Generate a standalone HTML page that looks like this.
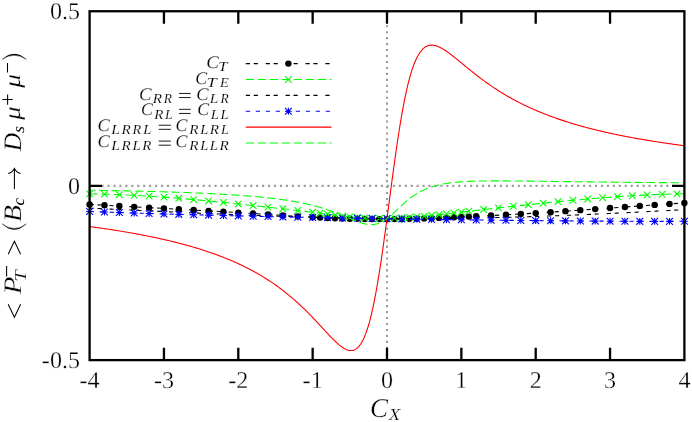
<!DOCTYPE html>
<html><head><meta charset="utf-8"><title>plot</title><style>html,body{margin:0;padding:0;background:#fff}svg{display:block;text-rendering:geometricPrecision}.t,.t text,.t tspan{font-family:"Liberation Serif",serif}</style></head><body>
<svg width="692" height="422" viewBox="0 0 692 422">
<rect x="0" y="0" width="692" height="422" fill="#fff"/>
<g stroke="#9c9c9c" stroke-width="2.1" fill="none">
<path d="M101.55 185.85 H672" stroke-dasharray="2.1 3.845"/>
<path d="M387.00 25.2 V348" stroke-dasharray="2.1 3.855"/>
</g>
<path d="M89.60 204.38 L104.47 205.23 L119.34 206.05 L134.21 206.85 L149.08 207.64 L163.95 208.43 L178.82 209.22 L193.69 210.03 L208.56 210.86 L223.43 211.71 L238.30 212.60 L253.17 213.53 L268.04 214.49 L282.91 215.44 L297.78 216.36 L312.65 217.20 L320.09 217.58 L327.52 217.91 L334.95 218.21 L342.39 218.47 L349.82 218.69 L357.26 218.87 L364.69 218.99 L372.13 219.08 L379.56 219.12 L387.00 219.11 L394.44 219.05 L401.87 218.95 L409.31 218.81 L416.74 218.63 L424.18 218.41 L431.61 218.16 L439.05 217.89 L446.48 217.59 L453.91 217.27 L461.35 216.94 L468.78 216.60 L476.22 216.25 L491.09 215.53 L505.96 214.77 L520.83 213.96 L535.70 213.09 L550.57 212.15 L565.44 211.17 L580.31 210.14 L595.18 209.09 L610.05 208.03 L624.92 206.97 L639.79 205.92 L654.66 204.88 L669.53 203.88 L684.40 202.90" fill="none" stroke="#000" stroke-width="1.10" stroke-dasharray="4.2 3.7 4.2 7.8"/>
<g fill="#000"><circle cx="89.60" cy="204.38" r="3.20"/><circle cx="104.47" cy="205.23" r="3.20"/><circle cx="119.34" cy="206.05" r="3.20"/><circle cx="134.21" cy="206.85" r="3.20"/><circle cx="149.08" cy="207.64" r="3.20"/><circle cx="163.95" cy="208.43" r="3.20"/><circle cx="178.82" cy="209.22" r="3.20"/><circle cx="193.69" cy="210.03" r="3.20"/><circle cx="208.56" cy="210.86" r="3.20"/><circle cx="223.43" cy="211.71" r="3.20"/><circle cx="238.30" cy="212.60" r="3.20"/><circle cx="253.17" cy="213.53" r="3.20"/><circle cx="268.04" cy="214.49" r="3.20"/><circle cx="282.91" cy="215.44" r="3.20"/><circle cx="297.78" cy="216.36" r="3.20"/><circle cx="312.65" cy="217.20" r="3.20"/><circle cx="320.09" cy="217.58" r="3.20"/><circle cx="327.52" cy="217.91" r="3.20"/><circle cx="334.95" cy="218.21" r="3.20"/><circle cx="342.39" cy="218.47" r="3.20"/><circle cx="349.82" cy="218.69" r="3.20"/><circle cx="357.26" cy="218.87" r="3.20"/><circle cx="364.69" cy="218.99" r="3.20"/><circle cx="372.13" cy="219.08" r="3.20"/><circle cx="379.56" cy="219.12" r="3.20"/><circle cx="387.00" cy="219.11" r="3.20"/><circle cx="394.44" cy="219.05" r="3.20"/><circle cx="401.87" cy="218.95" r="3.20"/><circle cx="409.31" cy="218.81" r="3.20"/><circle cx="416.74" cy="218.63" r="3.20"/><circle cx="424.18" cy="218.41" r="3.20"/><circle cx="431.61" cy="218.16" r="3.20"/><circle cx="439.05" cy="217.89" r="3.20"/><circle cx="446.48" cy="217.59" r="3.20"/><circle cx="453.91" cy="217.27" r="3.20"/><circle cx="461.35" cy="216.94" r="3.20"/><circle cx="468.78" cy="216.60" r="3.20"/><circle cx="476.22" cy="216.25" r="3.20"/><circle cx="491.09" cy="215.53" r="3.20"/><circle cx="505.96" cy="214.77" r="3.20"/><circle cx="520.83" cy="213.96" r="3.20"/><circle cx="535.70" cy="213.09" r="3.20"/><circle cx="550.57" cy="212.15" r="3.20"/><circle cx="565.44" cy="211.17" r="3.20"/><circle cx="580.31" cy="210.14" r="3.20"/><circle cx="595.18" cy="209.09" r="3.20"/><circle cx="610.05" cy="208.03" r="3.20"/><circle cx="624.92" cy="206.97" r="3.20"/><circle cx="639.79" cy="205.92" r="3.20"/><circle cx="654.66" cy="204.88" r="3.20"/><circle cx="669.53" cy="203.88" r="3.20"/><circle cx="684.40" cy="202.90" r="3.20"/></g>
<path d="M89.60 193.84 L104.47 194.14 L119.34 194.64 L134.21 195.33 L149.08 196.17 L163.95 197.17 L178.82 198.31 L193.69 199.58 L208.56 200.95 L223.43 202.41 L238.30 203.95 L253.17 205.54 L268.04 207.15 L282.91 208.80 L297.78 210.52 L312.65 212.31 L320.09 213.24 L327.52 214.20 L334.95 215.17 L342.39 216.11 L349.82 216.92 L357.26 217.56 L364.69 218.00 L372.13 218.27 L379.56 218.37 L387.00 218.31 L394.44 218.11 L401.87 217.79 L409.31 217.35 L416.74 216.81 L424.18 216.17 L431.61 215.46 L439.05 214.69 L446.48 213.87 L453.91 213.02 L461.35 212.15 L468.78 211.28 L483.65 209.55 L498.52 207.88 L513.39 206.26 L528.26 204.69 L543.13 203.16 L558.00 201.68 L572.88 200.28 L587.75 198.96 L602.62 197.76 L617.49 196.67 L632.36 195.72 L647.22 194.92 L662.10 194.28 L676.96 193.83 L684.40 193.67" fill="none" stroke="#0f0" stroke-width="1.10" stroke-dasharray="8.3 3.7"/>
<path d="M86.30 190.54l6.60 6.60M86.30 197.14l6.60 -6.60M101.17 190.84l6.60 6.60M101.17 197.44l6.60 -6.60M116.04 191.34l6.60 6.60M116.04 197.94l6.60 -6.60M130.91 192.03l6.60 6.60M130.91 198.63l6.60 -6.60M145.78 192.87l6.60 6.60M145.78 199.47l6.60 -6.60M160.65 193.87l6.60 6.60M160.65 200.47l6.60 -6.60M175.52 195.01l6.60 6.60M175.52 201.61l6.60 -6.60M190.39 196.28l6.60 6.60M190.39 202.88l6.60 -6.60M205.26 197.65l6.60 6.60M205.26 204.25l6.60 -6.60M220.13 199.11l6.60 6.60M220.13 205.71l6.60 -6.60M235.00 200.65l6.60 6.60M235.00 207.25l6.60 -6.60M249.87 202.24l6.60 6.60M249.87 208.84l6.60 -6.60M264.74 203.85l6.60 6.60M264.74 210.45l6.60 -6.60M279.61 205.50l6.60 6.60M279.61 212.10l6.60 -6.60M294.48 207.22l6.60 6.60M294.48 213.82l6.60 -6.60M309.35 209.01l6.60 6.60M309.35 215.61l6.60 -6.60M316.79 209.94l6.60 6.60M316.79 216.54l6.60 -6.60M324.22 210.90l6.60 6.60M324.22 217.50l6.60 -6.60M331.65 211.87l6.60 6.60M331.65 218.47l6.60 -6.60M339.09 212.81l6.60 6.60M339.09 219.41l6.60 -6.60M346.52 213.62l6.60 6.60M346.52 220.22l6.60 -6.60M353.96 214.26l6.60 6.60M353.96 220.86l6.60 -6.60M361.39 214.70l6.60 6.60M361.39 221.30l6.60 -6.60M368.83 214.97l6.60 6.60M368.83 221.57l6.60 -6.60M376.26 215.07l6.60 6.60M376.26 221.67l6.60 -6.60M383.70 215.01l6.60 6.60M383.70 221.61l6.60 -6.60M391.13 214.81l6.60 6.60M391.13 221.41l6.60 -6.60M398.57 214.49l6.60 6.60M398.57 221.09l6.60 -6.60M406.00 214.05l6.60 6.60M406.00 220.65l6.60 -6.60M413.44 213.51l6.60 6.60M413.44 220.11l6.60 -6.60M420.88 212.87l6.60 6.60M420.88 219.47l6.60 -6.60M428.31 212.16l6.60 6.60M428.31 218.76l6.60 -6.60M435.75 211.39l6.60 6.60M435.75 217.99l6.60 -6.60M443.18 210.57l6.60 6.60M443.18 217.17l6.60 -6.60M450.61 209.72l6.60 6.60M450.61 216.32l6.60 -6.60M458.05 208.85l6.60 6.60M458.05 215.45l6.60 -6.60M465.48 207.98l6.60 6.60M465.48 214.58l6.60 -6.60M480.35 206.25l6.60 6.60M480.35 212.85l6.60 -6.60M495.22 204.58l6.60 6.60M495.22 211.18l6.60 -6.60M510.09 202.96l6.60 6.60M510.09 209.56l6.60 -6.60M524.97 201.39l6.60 6.60M524.97 207.99l6.60 -6.60M539.84 199.86l6.60 6.60M539.84 206.46l6.60 -6.60M554.71 198.38l6.60 6.60M554.71 204.98l6.60 -6.60M569.58 196.98l6.60 6.60M569.58 203.58l6.60 -6.60M584.45 195.66l6.60 6.60M584.45 202.26l6.60 -6.60M599.32 194.46l6.60 6.60M599.32 201.06l6.60 -6.60M614.19 193.37l6.60 6.60M614.19 199.97l6.60 -6.60M629.06 192.42l6.60 6.60M629.06 199.02l6.60 -6.60M643.92 191.62l6.60 6.60M643.92 198.22l6.60 -6.60M658.80 190.98l6.60 6.60M658.80 197.58l6.60 -6.60M673.66 190.53l6.60 6.60M673.66 197.13l6.60 -6.60" fill="none" stroke="#0f0" stroke-width="1.10"/>
<path d="M89.60 208.09 L90.34 208.12 L91.09 208.16 L91.83 208.20 L92.57 208.23 L93.32 208.27 L94.06 208.30 L94.80 208.34 L95.55 208.37 L96.29 208.41 L97.04 208.44 L97.78 208.48 L98.52 208.51 L99.27 208.55 L100.01 208.59 L100.75 208.62 L101.50 208.66 L102.24 208.69 L102.98 208.73 L103.73 208.76 L104.47 208.80 L105.21 208.83 L105.96 208.87 L106.70 208.90 L107.44 208.94 L108.19 208.98 L108.93 209.01 L109.67 209.05 L110.42 209.08 L111.16 209.12 L111.91 209.15 L112.65 209.19 L113.39 209.22 L114.14 209.26 L114.88 209.29 L115.62 209.33 L116.37 209.36 L117.11 209.40 L117.85 209.44 L118.60 209.47 L119.34 209.51 L120.08 209.54 L120.83 209.58 L121.57 209.61 L122.31 209.65 L123.06 209.68 L123.80 209.72 L124.54 209.75 L125.29 209.79 L126.03 209.82 L126.78 209.86 L127.52 209.89 L128.26 209.93 L129.01 209.96 L129.75 210.00 L130.49 210.03 L131.24 210.07 L131.98 210.10 L132.72 210.14 L133.47 210.17 L134.21 210.21 L134.95 210.24 L135.70 210.28 L136.44 210.31 L137.18 210.35 L137.93 210.38 L138.67 210.42 L139.41 210.45 L140.16 210.49 L140.90 210.52 L141.65 210.56 L142.39 210.59 L143.13 210.63 L143.88 210.66 L144.62 210.70 L145.36 210.73 L146.11 210.77 L146.85 210.80 L147.59 210.84 L148.34 210.87 L149.08 210.90 L149.82 210.94 L150.57 210.97 L151.31 211.01 L152.05 211.04 L152.80 211.08 L153.54 211.11 L154.28 211.15 L155.03 211.18 L155.77 211.21 L156.52 211.25 L157.26 211.28 L158.00 211.32 L158.75 211.35 L159.49 211.39 L160.23 211.42 L160.98 211.45 L161.72 211.49 L162.46 211.52 L163.21 211.56 L163.95 211.59 L164.69 211.63 L165.44 211.66 L166.18 211.69 L166.92 211.73 L167.67 211.76 L168.41 211.79 L169.15 211.83 L169.90 211.86 L170.64 211.90 L171.39 211.93 L172.13 211.96 L172.87 212.00 L173.62 212.03 L174.36 212.06 L175.10 212.10 L175.85 212.13 L176.59 212.16 L177.33 212.20 L178.08 212.23 L178.82 212.26 L179.56 212.30 L180.31 212.33 L181.05 212.36 L181.79 212.40 L182.54 212.43 L183.28 212.46 L184.02 212.50 L184.77 212.53 L185.51 212.56 L186.25 212.60 L187.00 212.63 L187.74 212.66 L188.49 212.69 L189.23 212.73 L189.97 212.76 L190.72 212.79 L191.46 212.82 L192.20 212.86 L192.95 212.89 L193.69 212.92 L194.43 212.95 L195.18 212.99 L195.92 213.02 L196.66 213.05 L197.41 213.08 L198.15 213.12 L198.89 213.15 L199.64 213.18 L200.38 213.21 L201.12 213.24 L201.87 213.28 L202.61 213.31 L203.36 213.34 L204.10 213.37 L204.84 213.40 L205.59 213.43 L206.33 213.47 L207.07 213.50 L207.82 213.53 L208.56 213.56 L209.30 213.59 L210.05 213.62 L210.79 213.65 L211.53 213.69 L212.28 213.72 L213.02 213.75 L213.76 213.78 L214.51 213.81 L215.25 213.84 L216.00 213.87 L216.74 213.90 L217.48 213.93 L218.23 213.96 L218.97 213.99 L219.71 214.03 L220.46 214.06 L221.20 214.09 L221.94 214.12 L222.69 214.15 L223.43 214.18 L224.17 214.21 L224.92 214.24 L225.66 214.27 L226.40 214.30 L227.15 214.33 L227.89 214.36 L228.63 214.39 L229.38 214.42 L230.12 214.45 L230.87 214.48 L231.61 214.50 L232.35 214.53 L233.10 214.56 L233.84 214.59 L234.58 214.62 L235.33 214.65 L236.07 214.68 L236.81 214.71 L237.56 214.74 L238.30 214.77 L239.04 214.80 L239.79 214.82 L240.53 214.85 L241.27 214.88 L242.02 214.91 L242.76 214.94 L243.50 214.97 L244.25 214.99 L244.99 215.02 L245.74 215.05 L246.48 215.08 L247.22 215.11 L247.97 215.13 L248.71 215.16 L249.45 215.19 L250.20 215.22 L250.94 215.25 L251.68 215.27 L252.43 215.30 L253.17 215.33 L253.91 215.35 L254.66 215.38 L255.40 215.41 L256.14 215.44 L256.89 215.46 L257.63 215.49 L258.37 215.52 L259.12 215.54 L259.86 215.57 L260.61 215.59 L261.35 215.62 L262.09 215.65 L262.84 215.67 L263.58 215.70 L264.32 215.73 L265.07 215.75 L265.81 215.78 L266.55 215.80 L267.30 215.83 L268.04 215.85 L268.78 215.88 L269.53 215.90 L270.27 215.93 L271.01 215.95 L271.76 215.98 L272.50 216.00 L273.24 216.03 L273.99 216.05 L274.73 216.08 L275.48 216.10 L276.22 216.13 L276.96 216.15 L277.71 216.18 L278.45 216.20 L279.19 216.22 L279.94 216.25 L280.68 216.27 L281.42 216.30 L282.17 216.32 L282.91 216.34 L283.65 216.37 L284.40 216.39 L285.14 216.41 L285.88 216.44 L286.63 216.46 L287.37 216.48 L288.11 216.51 L288.86 216.53 L289.60 216.55 L290.35 216.57 L291.09 216.60 L291.83 216.62 L292.58 216.64 L293.32 216.66 L294.06 216.68 L294.81 216.71 L295.55 216.73 L296.29 216.75 L297.04 216.77 L297.78 216.79 L298.52 216.81 L299.27 216.84 L300.01 216.86 L300.75 216.88 L301.50 216.90 L302.24 216.92 L302.98 216.94 L303.73 216.96 L304.47 216.98 L305.22 217.00 L305.96 217.02 L306.70 217.04 L307.45 217.06 L308.19 217.08 L308.93 217.10 L309.68 217.12 L310.42 217.14 L311.16 217.16 L311.91 217.18 L312.65 217.20 L313.39 217.22 L314.14 217.24 L314.88 217.25 L315.62 217.27 L316.37 217.29 L317.11 217.31 L317.85 217.33 L318.60 217.35 L319.34 217.36 L320.09 217.38 L320.83 217.40 L321.57 217.42 L322.32 217.44 L323.06 217.45 L323.80 217.47 L324.55 217.49 L325.29 217.50 L326.03 217.52 L326.78 217.54 L327.52 217.56 L328.26 217.57 L329.01 217.59 L329.75 217.60 L330.49 217.62 L331.24 217.64 L331.98 217.65 L332.72 217.67 L333.47 217.68 L334.21 217.70 L334.96 217.72 L335.70 217.73 L336.44 217.75 L337.19 217.76 L337.93 217.78 L338.67 217.79 L339.42 217.80 L340.16 217.82 L340.90 217.83 L341.65 217.85 L342.39 217.86 L343.13 217.88 L343.88 217.89 L344.62 217.90 L345.36 217.92 L346.11 217.93 L346.85 217.94 L347.59 217.96 L348.34 217.97 L349.08 217.98 L349.82 218.00 L350.57 218.01 L351.31 218.02 L352.06 218.03 L352.80 218.05 L353.54 218.06 L354.29 218.07 L355.03 218.08 L355.77 218.09 L356.52 218.10 L357.26 218.12 L358.00 218.13 L358.75 218.14 L359.49 218.15 L360.23 218.16 L360.98 218.17 L361.72 218.18 L362.46 218.19 L363.21 218.20 L363.95 218.21 L364.69 218.22 L365.44 218.23 L366.18 218.24 L366.93 218.25 L367.67 218.26 L368.41 218.27 L369.16 218.28 L369.90 218.29 L370.64 218.30 L371.39 218.30 L372.13 218.31 L372.87 218.32 L373.62 218.33 L374.36 218.34 L375.10 218.34 L375.85 218.35 L376.59 218.36 L377.33 218.37 L378.08 218.38 L378.82 218.38 L379.56 218.39 L380.31 218.40 L381.05 218.40 L381.80 218.41 L382.54 218.42 L383.28 218.42 L384.03 218.43 L384.77 218.43 L385.51 218.44 L386.26 218.45 L387.00 218.45 L387.74 218.46 L388.49 218.46 L389.23 218.47 L389.97 218.47 L390.72 218.48 L391.46 218.48 L392.20 218.49 L392.95 218.49 L393.69 218.49 L394.43 218.50 L395.18 218.50 L395.92 218.51 L396.67 218.51 L397.41 218.51 L398.15 218.52 L398.90 218.52 L399.64 218.52 L400.38 218.52 L401.13 218.53 L401.87 218.53 L402.61 218.53 L403.36 218.53 L404.10 218.54 L404.84 218.54 L405.59 218.54 L406.33 218.54 L407.07 218.54 L407.82 218.54 L408.56 218.55 L409.31 218.55 L410.05 218.55 L410.79 218.55 L411.54 218.55 L412.28 218.55 L413.02 218.55 L413.77 218.55 L414.51 218.55 L415.25 218.55 L416.00 218.55 L416.74 218.55 L417.48 218.55 L418.23 218.55 L418.97 218.54 L419.71 218.54 L420.46 218.54 L421.20 218.54 L421.94 218.54 L422.69 218.54 L423.43 218.53 L424.18 218.53 L424.92 218.53 L425.66 218.53 L426.41 218.52 L427.15 218.52 L427.89 218.52 L428.64 218.52 L429.38 218.51 L430.12 218.51 L430.87 218.51 L431.61 218.50 L432.35 218.50 L433.10 218.49 L433.84 218.49 L434.58 218.49 L435.33 218.48 L436.07 218.48 L436.81 218.47 L437.56 218.47 L438.30 218.46 L439.05 218.46 L439.79 218.45 L440.53 218.44 L441.28 218.44 L442.02 218.43 L442.76 218.43 L443.51 218.42 L444.25 218.41 L444.99 218.41 L445.74 218.40 L446.48 218.39 L447.22 218.39 L447.97 218.38 L448.71 218.37 L449.45 218.36 L450.20 218.36 L450.94 218.35 L451.68 218.34 L452.43 218.33 L453.17 218.32 L453.92 218.32 L454.66 218.31 L455.40 218.30 L456.15 218.29 L456.89 218.28 L457.63 218.27 L458.38 218.26 L459.12 218.25 L459.86 218.24 L460.61 218.23 L461.35 218.22 L462.09 218.21 L462.84 218.20 L463.58 218.19 L464.32 218.18 L465.07 218.17 L465.81 218.16 L466.55 218.15 L467.30 218.14 L468.04 218.13 L468.79 218.12 L469.53 218.10 L470.27 218.09 L471.02 218.08 L471.76 218.07 L472.50 218.06 L473.25 218.04 L473.99 218.03 L474.73 218.02 L475.48 218.00 L476.22 217.99 L476.96 217.98 L477.71 217.96 L478.45 217.95 L479.19 217.94 L479.94 217.92 L480.68 217.91 L481.42 217.90 L482.17 217.88 L482.91 217.87 L483.65 217.85 L484.40 217.84 L485.14 217.82 L485.89 217.81 L486.63 217.79 L487.37 217.78 L488.12 217.76 L488.86 217.75 L489.60 217.73 L490.35 217.71 L491.09 217.70 L491.83 217.68 L492.58 217.67 L493.32 217.65 L494.06 217.63 L494.81 217.62 L495.55 217.60 L496.29 217.58 L497.04 217.56 L497.78 217.55 L498.52 217.53 L499.27 217.51 L500.01 217.49 L500.76 217.48 L501.50 217.46 L502.24 217.44 L502.99 217.42 L503.73 217.40 L504.47 217.38 L505.22 217.37 L505.96 217.35 L506.70 217.33 L507.45 217.31 L508.19 217.29 L508.93 217.27 L509.68 217.25 L510.42 217.23 L511.16 217.21 L511.91 217.19 L512.65 217.17 L513.39 217.15 L514.14 217.13 L514.88 217.11 L515.63 217.09 L516.37 217.07 L517.11 217.04 L517.86 217.02 L518.60 217.00 L519.34 216.98 L520.09 216.96 L520.83 216.94 L521.57 216.92 L522.32 216.89 L523.06 216.87 L523.80 216.85 L524.55 216.83 L525.29 216.80 L526.03 216.78 L526.78 216.76 L527.52 216.74 L528.26 216.71 L529.01 216.69 L529.75 216.67 L530.50 216.64 L531.24 216.62 L531.98 216.59 L532.73 216.57 L533.47 216.55 L534.21 216.52 L534.96 216.50 L535.70 216.47 L536.44 216.45 L537.19 216.42 L537.93 216.40 L538.67 216.38 L539.42 216.35 L540.16 216.33 L540.90 216.30 L541.65 216.27 L542.39 216.25 L543.13 216.22 L543.88 216.20 L544.62 216.17 L545.37 216.15 L546.11 216.12 L546.85 216.09 L547.60 216.07 L548.34 216.04 L549.08 216.01 L549.83 215.99 L550.57 215.96 L551.31 215.93 L552.06 215.91 L552.80 215.88 L553.54 215.85 L554.29 215.82 L555.03 215.80 L555.77 215.77 L556.52 215.74 L557.26 215.71 L558.00 215.68 L558.75 215.66 L559.49 215.63 L560.24 215.60 L560.98 215.57 L561.72 215.54 L562.47 215.51 L563.21 215.48 L563.95 215.46 L564.70 215.43 L565.44 215.40 L566.18 215.37 L566.93 215.34 L567.67 215.31 L568.41 215.28 L569.16 215.25 L569.90 215.22 L570.64 215.19 L571.39 215.16 L572.13 215.13 L572.88 215.10 L573.62 215.07 L574.36 215.04 L575.11 215.01 L575.85 214.98 L576.59 214.95 L577.34 214.91 L578.08 214.88 L578.82 214.85 L579.57 214.82 L580.31 214.79 L581.05 214.76 L581.80 214.73 L582.54 214.69 L583.28 214.66 L584.03 214.63 L584.77 214.60 L585.51 214.57 L586.26 214.54 L587.00 214.50 L587.75 214.47 L588.49 214.44 L589.23 214.41 L589.98 214.37 L590.72 214.34 L591.46 214.31 L592.21 214.27 L592.95 214.24 L593.69 214.21 L594.44 214.17 L595.18 214.14 L595.92 214.11 L596.67 214.07 L597.41 214.04 L598.15 214.01 L598.90 213.97 L599.64 213.94 L600.38 213.91 L601.13 213.87 L601.87 213.84 L602.62 213.80 L603.36 213.77 L604.10 213.73 L604.85 213.70 L605.59 213.67 L606.33 213.63 L607.08 213.60 L607.82 213.56 L608.56 213.53 L609.31 213.49 L610.05 213.46 L610.79 213.42 L611.54 213.39 L612.28 213.35 L613.02 213.32 L613.77 213.28 L614.51 213.24 L615.25 213.21 L616.00 213.17 L616.74 213.14 L617.49 213.10 L618.23 213.07 L618.97 213.03 L619.72 212.99 L620.46 212.96 L621.20 212.92 L621.95 212.88 L622.69 212.85 L623.43 212.81 L624.18 212.78 L624.92 212.74 L625.66 212.70 L626.41 212.67 L627.15 212.63 L627.89 212.59 L628.64 212.55 L629.38 212.52 L630.12 212.48 L630.87 212.44 L631.61 212.41 L632.36 212.37 L633.10 212.33 L633.84 212.29 L634.59 212.26 L635.33 212.22 L636.07 212.18 L636.82 212.14 L637.56 212.11 L638.30 212.07 L639.05 212.03 L639.79 211.99 L640.53 211.95 L641.28 211.92 L642.02 211.88 L642.76 211.84 L643.51 211.80 L644.25 211.76 L644.99 211.72 L645.74 211.69 L646.48 211.65 L647.22 211.61 L647.97 211.57 L648.71 211.53 L649.46 211.49 L650.20 211.45 L650.94 211.41 L651.69 211.38 L652.43 211.34 L653.17 211.30 L653.92 211.26 L654.66 211.22 L655.40 211.18 L656.15 211.14 L656.89 211.10 L657.63 211.06 L658.38 211.02 L659.12 210.98 L659.86 210.94 L660.61 210.91 L661.35 210.87 L662.10 210.83 L662.84 210.79 L663.58 210.75 L664.33 210.71 L665.07 210.67 L665.81 210.63 L666.56 210.59 L667.30 210.55 L668.04 210.51 L668.79 210.47 L669.53 210.43 L670.27 210.39 L671.02 210.35 L671.76 210.31 L672.50 210.27 L673.25 210.23 L673.99 210.19 L674.73 210.15 L675.48 210.11 L676.22 210.06 L676.97 210.02 L677.71 209.98 L678.45 209.94 L679.20 209.90 L679.94 209.86 L680.68 209.82 L681.43 209.78 L682.17 209.74 L682.91 209.70 L683.66 209.66 L684.40 209.62" fill="none" stroke="#000" stroke-width="1.10" stroke-dasharray="4.2 3.7 4.2 7.8"/>
<path d="M89.60 211.47 L104.47 212.01 L119.34 212.52 L134.21 213.01 L149.08 213.48 L163.95 213.93 L178.82 214.36 L193.69 214.77 L208.56 215.16 L223.43 215.54 L238.30 215.90 L253.17 216.25 L268.04 216.58 L282.91 216.89 L297.78 217.20 L312.65 217.49 L327.52 217.77 L342.39 218.04 L357.26 218.29 L372.13 218.54 L387.00 218.78 L401.87 219.00 L416.74 219.21 L431.61 219.42 L446.48 219.62 L461.35 219.80 L476.22 219.98 L491.09 220.15 L505.96 220.31 L520.83 220.46 L535.70 220.60 L550.57 220.74 L565.44 220.86 L580.31 220.98 L595.18 221.09 L610.05 221.18 L624.92 221.27 L639.79 221.34 L654.66 221.38 L669.53 221.38 L684.40 221.27" fill="none" stroke="#00f" stroke-width="1.10" stroke-dasharray="4.2 5.8"/>
<path d="M86.20 208.07l6.80 6.80M86.20 214.87l6.80 -6.80M86.20 211.47h6.80M89.60 208.07v6.80M101.07 208.61l6.80 6.80M101.07 215.41l6.80 -6.80M101.07 212.01h6.80M104.47 208.61v6.80M115.94 209.12l6.80 6.80M115.94 215.92l6.80 -6.80M115.94 212.52h6.80M119.34 209.12v6.80M130.81 209.61l6.80 6.80M130.81 216.41l6.80 -6.80M130.81 213.01h6.80M134.21 209.61v6.80M145.68 210.08l6.80 6.80M145.68 216.88l6.80 -6.80M145.68 213.48h6.80M149.08 210.08v6.80M160.55 210.53l6.80 6.80M160.55 217.33l6.80 -6.80M160.55 213.93h6.80M163.95 210.53v6.80M175.42 210.96l6.80 6.80M175.42 217.76l6.80 -6.80M175.42 214.36h6.80M178.82 210.96v6.80M190.29 211.37l6.80 6.80M190.29 218.17l6.80 -6.80M190.29 214.77h6.80M193.69 211.37v6.80M205.16 211.76l6.80 6.80M205.16 218.56l6.80 -6.80M205.16 215.16h6.80M208.56 211.76v6.80M220.03 212.14l6.80 6.80M220.03 218.94l6.80 -6.80M220.03 215.54h6.80M223.43 212.14v6.80M234.90 212.50l6.80 6.80M234.90 219.30l6.80 -6.80M234.90 215.90h6.80M238.30 212.50v6.80M249.77 212.85l6.80 6.80M249.77 219.65l6.80 -6.80M249.77 216.25h6.80M253.17 212.85v6.80M264.64 213.18l6.80 6.80M264.64 219.98l6.80 -6.80M264.64 216.58h6.80M268.04 213.18v6.80M279.51 213.49l6.80 6.80M279.51 220.29l6.80 -6.80M279.51 216.89h6.80M282.91 213.49v6.80M294.38 213.80l6.80 6.80M294.38 220.60l6.80 -6.80M294.38 217.20h6.80M297.78 213.80v6.80M309.25 214.09l6.80 6.80M309.25 220.89l6.80 -6.80M309.25 217.49h6.80M312.65 214.09v6.80M324.12 214.37l6.80 6.80M324.12 221.17l6.80 -6.80M324.12 217.77h6.80M327.52 214.37v6.80M338.99 214.64l6.80 6.80M338.99 221.44l6.80 -6.80M338.99 218.04h6.80M342.39 214.64v6.80M353.86 214.89l6.80 6.80M353.86 221.69l6.80 -6.80M353.86 218.29h6.80M357.26 214.89v6.80M368.73 215.14l6.80 6.80M368.73 221.94l6.80 -6.80M368.73 218.54h6.80M372.13 215.14v6.80M383.60 215.38l6.80 6.80M383.60 222.18l6.80 -6.80M383.60 218.78h6.80M387.00 215.38v6.80M398.47 215.60l6.80 6.80M398.47 222.40l6.80 -6.80M398.47 219.00h6.80M401.87 215.60v6.80M413.34 215.81l6.80 6.80M413.34 222.61l6.80 -6.80M413.34 219.21h6.80M416.74 215.81v6.80M428.21 216.02l6.80 6.80M428.21 222.82l6.80 -6.80M428.21 219.42h6.80M431.61 216.02v6.80M443.08 216.22l6.80 6.80M443.08 223.02l6.80 -6.80M443.08 219.62h6.80M446.48 216.22v6.80M457.95 216.40l6.80 6.80M457.95 223.20l6.80 -6.80M457.95 219.80h6.80M461.35 216.40v6.80M472.82 216.58l6.80 6.80M472.82 223.38l6.80 -6.80M472.82 219.98h6.80M476.22 216.58v6.80M487.69 216.75l6.80 6.80M487.69 223.55l6.80 -6.80M487.69 220.15h6.80M491.09 216.75v6.80M502.56 216.91l6.80 6.80M502.56 223.71l6.80 -6.80M502.56 220.31h6.80M505.96 216.91v6.80M517.43 217.06l6.80 6.80M517.43 223.86l6.80 -6.80M517.43 220.46h6.80M520.83 217.06v6.80M532.30 217.20l6.80 6.80M532.30 224.00l6.80 -6.80M532.30 220.60h6.80M535.70 217.20v6.80M547.17 217.34l6.80 6.80M547.17 224.14l6.80 -6.80M547.17 220.74h6.80M550.57 217.34v6.80M562.04 217.46l6.80 6.80M562.04 224.26l6.80 -6.80M562.04 220.86h6.80M565.44 217.46v6.80M576.91 217.58l6.80 6.80M576.91 224.38l6.80 -6.80M576.91 220.98h6.80M580.31 217.58v6.80M591.78 217.69l6.80 6.80M591.78 224.49l6.80 -6.80M591.78 221.09h6.80M595.18 217.69v6.80M606.65 217.78l6.80 6.80M606.65 224.58l6.80 -6.80M606.65 221.18h6.80M610.05 217.78v6.80M621.52 217.87l6.80 6.80M621.52 224.67l6.80 -6.80M621.52 221.27h6.80M624.92 217.87v6.80M636.39 217.94l6.80 6.80M636.39 224.74l6.80 -6.80M636.39 221.34h6.80M639.79 217.94v6.80M651.26 217.98l6.80 6.80M651.26 224.78l6.80 -6.80M651.26 221.38h6.80M654.66 217.98v6.80M666.13 217.98l6.80 6.80M666.13 224.78l6.80 -6.80M666.13 221.38h6.80M669.53 217.98v6.80M681.00 217.87l6.80 6.80M681.00 224.67l6.80 -6.80M681.00 221.27h6.80M684.40 217.87v6.80" fill="none" stroke="#00f" stroke-width="1.10"/>
<path d="M89.60 226.57 L90.34 226.67 L91.09 226.77 L91.83 226.87 L92.57 226.97 L93.32 227.07 L94.06 227.17 L94.80 227.27 L95.55 227.37 L96.29 227.48 L97.04 227.58 L97.78 227.68 L98.52 227.79 L99.27 227.89 L100.01 228.00 L100.75 228.10 L101.50 228.21 L102.24 228.32 L102.98 228.43 L103.73 228.53 L104.47 228.64 L105.21 228.75 L105.96 228.86 L106.70 228.97 L107.44 229.08 L108.19 229.19 L108.93 229.31 L109.67 229.42 L110.42 229.53 L111.16 229.65 L111.91 229.76 L112.65 229.88 L113.39 229.99 L114.14 230.11 L114.88 230.22 L115.62 230.34 L116.37 230.46 L117.11 230.58 L117.85 230.70 L118.60 230.82 L119.34 230.94 L120.08 231.06 L120.83 231.18 L121.57 231.30 L122.31 231.42 L123.06 231.55 L123.80 231.67 L124.54 231.80 L125.29 231.92 L126.03 232.05 L126.78 232.18 L127.52 232.30 L128.26 232.43 L129.01 232.56 L129.75 232.69 L130.49 232.82 L131.24 232.95 L131.98 233.08 L132.72 233.22 L133.47 233.35 L134.21 233.48 L134.95 233.62 L135.70 233.75 L136.44 233.89 L137.18 234.03 L137.93 234.16 L138.67 234.30 L139.41 234.44 L140.16 234.58 L140.90 234.72 L141.65 234.86 L142.39 235.01 L143.13 235.15 L143.88 235.29 L144.62 235.44 L145.36 235.58 L146.11 235.73 L146.85 235.88 L147.59 236.03 L148.34 236.18 L149.08 236.33 L149.82 236.48 L150.57 236.63 L151.31 236.78 L152.05 236.93 L152.80 237.09 L153.54 237.24 L154.28 237.40 L155.03 237.56 L155.77 237.71 L156.52 237.87 L157.26 238.03 L158.00 238.19 L158.75 238.36 L159.49 238.52 L160.23 238.68 L160.98 238.85 L161.72 239.01 L162.46 239.18 L163.21 239.35 L163.95 239.52 L164.69 239.69 L165.44 239.86 L166.18 240.03 L166.92 240.20 L167.67 240.38 L168.41 240.55 L169.15 240.73 L169.90 240.91 L170.64 241.08 L171.39 241.26 L172.13 241.44 L172.87 241.63 L173.62 241.81 L174.36 241.99 L175.10 242.18 L175.85 242.36 L176.59 242.55 L177.33 242.74 L178.08 242.93 L178.82 243.12 L179.56 243.32 L180.31 243.51 L181.05 243.70 L181.79 243.90 L182.54 244.10 L183.28 244.30 L184.02 244.50 L184.77 244.70 L185.51 244.90 L186.25 245.11 L187.00 245.31 L187.74 245.52 L188.49 245.73 L189.23 245.94 L189.97 246.15 L190.72 246.36 L191.46 246.57 L192.20 246.79 L192.95 247.01 L193.69 247.22 L194.43 247.44 L195.18 247.67 L195.92 247.89 L196.66 248.11 L197.41 248.34 L198.15 248.57 L198.89 248.80 L199.64 249.03 L200.38 249.26 L201.12 249.49 L201.87 249.73 L202.61 249.97 L203.36 250.21 L204.10 250.45 L204.84 250.69 L205.59 250.93 L206.33 251.18 L207.07 251.43 L207.82 251.68 L208.56 251.93 L209.30 252.18 L210.05 252.43 L210.79 252.69 L211.53 252.95 L212.28 253.21 L213.02 253.47 L213.76 253.74 L214.51 254.00 L215.25 254.27 L216.00 254.54 L216.74 254.81 L217.48 255.09 L218.23 255.37 L218.97 255.64 L219.71 255.92 L220.46 256.21 L221.20 256.49 L221.94 256.78 L222.69 257.07 L223.43 257.36 L224.17 257.65 L224.92 257.95 L225.66 258.25 L226.40 258.55 L227.15 258.85 L227.89 259.16 L228.63 259.46 L229.38 259.77 L230.12 260.09 L230.87 260.40 L231.61 260.72 L232.35 261.04 L233.10 261.36 L233.84 261.69 L234.58 262.01 L235.33 262.34 L236.07 262.68 L236.81 263.01 L237.56 263.35 L238.30 263.69 L239.04 264.03 L239.79 264.38 L240.53 264.73 L241.27 265.08 L242.02 265.44 L242.76 265.80 L243.50 266.16 L244.25 266.52 L244.99 266.89 L245.74 267.26 L246.48 267.63 L247.22 268.01 L247.97 268.39 L248.71 268.77 L249.45 269.15 L250.20 269.54 L250.94 269.93 L251.68 270.33 L252.43 270.73 L253.17 271.13 L253.91 271.54 L254.66 271.95 L255.40 272.36 L256.14 272.77 L256.89 273.19 L257.63 273.62 L258.37 274.04 L259.12 274.47 L259.86 274.91 L260.61 275.35 L261.35 275.79 L262.09 276.23 L262.84 276.68 L263.58 277.14 L264.32 277.60 L265.07 278.06 L265.81 278.52 L266.55 278.99 L267.30 279.47 L268.04 279.94 L268.78 280.43 L269.53 280.91 L270.27 281.40 L271.01 281.90 L271.76 282.40 L272.50 282.90 L273.24 283.41 L273.99 283.92 L274.73 284.44 L275.48 284.96 L276.22 285.49 L276.96 286.02 L277.71 286.55 L278.45 287.09 L279.19 287.64 L279.94 288.19 L280.68 288.74 L281.42 289.30 L282.17 289.87 L282.91 290.44 L283.65 291.01 L284.40 291.59 L285.14 292.18 L285.88 292.77 L286.63 293.36 L287.37 293.96 L288.11 294.57 L288.86 295.18 L289.60 295.80 L290.35 296.42 L291.09 297.04 L291.83 297.67 L292.58 298.31 L293.32 298.95 L294.06 299.60 L294.81 300.26 L295.55 300.91 L296.29 301.58 L297.04 302.25 L297.78 302.92 L298.52 303.60 L299.27 304.29 L300.01 304.98 L300.75 305.67 L301.50 306.38 L302.24 307.08 L302.98 307.79 L303.73 308.51 L304.47 309.23 L305.22 309.96 L305.96 310.69 L306.70 311.43 L307.45 312.17 L308.19 312.92 L308.93 313.67 L309.68 314.43 L310.42 315.19 L311.16 315.96 L311.91 316.73 L312.65 317.50 L313.39 318.28 L314.14 319.06 L314.88 319.84 L315.62 320.63 L316.37 321.42 L317.11 322.22 L317.85 323.01 L318.60 323.81 L319.34 324.61 L320.09 325.42 L320.83 326.22 L321.57 327.03 L322.32 327.83 L323.06 328.64 L323.80 329.44 L324.55 330.25 L325.29 331.05 L326.03 331.85 L326.78 332.65 L327.52 333.45 L328.26 334.24 L329.01 335.03 L329.75 335.81 L330.49 336.58 L331.24 337.35 L331.98 338.11 L332.72 338.87 L333.47 339.61 L334.21 340.34 L334.96 341.06 L335.70 341.77 L336.44 342.46 L337.19 343.14 L337.93 343.80 L338.67 344.44 L339.42 345.06 L340.16 345.65 L340.90 346.23 L341.65 346.78 L342.39 347.30 L343.13 347.79 L343.88 348.25 L344.62 348.68 L345.36 349.07 L346.11 349.42 L346.85 349.73 L347.59 349.99 L348.34 350.21 L349.08 350.38 L349.82 350.50 L350.57 350.56 L351.31 350.57 L352.06 350.51 L352.80 350.38 L353.54 350.19 L354.29 349.92 L355.03 349.57 L355.77 349.15 L356.52 348.64 L357.26 348.04 L358.00 347.35 L358.75 346.56 L359.49 345.67 L360.23 344.68 L360.98 343.57 L361.72 342.36 L362.46 341.02 L363.21 339.56 L363.95 337.98 L364.69 336.26 L365.44 334.41 L366.18 332.43 L366.93 330.30 L367.67 328.02 L368.41 325.61 L369.16 323.04 L369.90 320.31 L370.64 317.44 L371.39 314.41 L372.13 311.22 L372.87 307.87 L373.62 304.37 L374.36 300.71 L375.10 296.90 L375.85 292.93 L376.59 288.81 L377.33 284.55 L378.08 280.14 L378.82 275.60 L379.56 270.92 L380.31 266.11 L381.05 261.18 L381.80 256.14 L382.54 251.00 L383.28 245.76 L384.03 240.43 L384.77 235.02 L385.51 229.55 L386.26 224.02 L387.00 218.45 L387.74 212.84 L388.49 207.21 L389.23 201.57 L389.97 195.93 L390.72 190.30 L391.46 184.70 L392.20 179.13 L392.95 173.61 L393.69 168.14 L394.43 162.73 L395.18 157.41 L395.92 152.17 L396.67 147.02 L397.41 141.98 L398.15 137.04 L398.90 132.22 L399.64 127.52 L400.38 122.95 L401.13 118.51 L401.87 114.21 L402.61 110.05 L403.36 106.03 L404.10 102.15 L404.84 98.43 L405.59 94.84 L406.33 91.41 L407.07 88.12 L407.82 84.97 L408.56 81.98 L409.31 79.12 L410.05 76.41 L410.79 73.84 L411.54 71.41 L412.28 69.11 L413.02 66.94 L413.77 64.90 L414.51 62.98 L415.25 61.19 L416.00 59.52 L416.74 57.96 L417.48 56.51 L418.23 55.16 L418.97 53.92 L419.71 52.78 L420.46 51.74 L421.20 50.78 L421.94 49.92 L422.69 49.14 L423.43 48.44 L424.18 47.81 L424.92 47.27 L425.66 46.79 L426.41 46.38 L427.15 46.03 L427.89 45.74 L428.64 45.52 L429.38 45.34 L430.12 45.22 L430.87 45.15 L431.61 45.13 L432.35 45.15 L433.10 45.21 L433.84 45.31 L434.58 45.45 L435.33 45.62 L436.07 45.83 L436.81 46.07 L437.56 46.34 L438.30 46.64 L439.05 46.96 L439.79 47.31 L440.53 47.68 L441.28 48.07 L442.02 48.48 L442.76 48.91 L443.51 49.36 L444.25 49.82 L444.99 50.30 L445.74 50.80 L446.48 51.30 L447.22 51.82 L447.97 52.35 L448.71 52.89 L449.45 53.44 L450.20 53.99 L450.94 54.56 L451.68 55.13 L452.43 55.71 L453.17 56.29 L453.92 56.88 L454.66 57.47 L455.40 58.07 L456.15 58.67 L456.89 59.27 L457.63 59.88 L458.38 60.49 L459.12 61.10 L459.86 61.71 L460.61 62.32 L461.35 62.94 L462.09 63.55 L462.84 64.16 L463.58 64.78 L464.32 65.39 L465.07 66.00 L465.81 66.61 L466.55 67.22 L467.30 67.83 L468.04 68.44 L468.79 69.04 L469.53 69.65 L470.27 70.25 L471.02 70.85 L471.76 71.44 L472.50 72.04 L473.25 72.63 L473.99 73.22 L474.73 73.80 L475.48 74.39 L476.22 74.97 L476.96 75.54 L477.71 76.12 L478.45 76.69 L479.19 77.25 L479.94 77.82 L480.68 78.38 L481.42 78.93 L482.17 79.49 L482.91 80.04 L483.65 80.59 L484.40 81.13 L485.14 81.67 L485.89 82.20 L486.63 82.73 L487.37 83.26 L488.12 83.79 L488.86 84.31 L489.60 84.83 L490.35 85.34 L491.09 85.85 L491.83 86.36 L492.58 86.86 L493.32 87.36 L494.06 87.85 L494.81 88.35 L495.55 88.83 L496.29 89.32 L497.04 89.80 L497.78 90.28 L498.52 90.75 L499.27 91.22 L500.01 91.69 L500.76 92.15 L501.50 92.61 L502.24 93.06 L502.99 93.51 L503.73 93.96 L504.47 94.41 L505.22 94.85 L505.96 95.29 L506.70 95.72 L507.45 96.15 L508.19 96.58 L508.93 97.01 L509.68 97.43 L510.42 97.85 L511.16 98.26 L511.91 98.67 L512.65 99.08 L513.39 99.49 L514.14 99.89 L514.88 100.29 L515.63 100.68 L516.37 101.08 L517.11 101.47 L517.86 101.85 L518.60 102.24 L519.34 102.62 L520.09 102.99 L520.83 103.37 L521.57 103.74 L522.32 104.11 L523.06 104.48 L523.80 104.84 L524.55 105.20 L525.29 105.56 L526.03 105.91 L526.78 106.26 L527.52 106.61 L528.26 106.96 L529.01 107.30 L529.75 107.64 L530.50 107.98 L531.24 108.32 L531.98 108.65 L532.73 108.98 L533.47 109.31 L534.21 109.64 L534.96 109.96 L535.70 110.28 L536.44 110.60 L537.19 110.92 L537.93 111.23 L538.67 111.54 L539.42 111.85 L540.16 112.16 L540.90 112.46 L541.65 112.77 L542.39 113.07 L543.13 113.36 L543.88 113.66 L544.62 113.95 L545.37 114.24 L546.11 114.53 L546.85 114.82 L547.60 115.10 L548.34 115.39 L549.08 115.67 L549.83 115.95 L550.57 116.22 L551.31 116.50 L552.06 116.77 L552.80 117.04 L553.54 117.31 L554.29 117.58 L555.03 117.84 L555.77 118.10 L556.52 118.37 L557.26 118.63 L558.00 118.88 L558.75 119.14 L559.49 119.39 L560.24 119.64 L560.98 119.89 L561.72 120.14 L562.47 120.39 L563.21 120.63 L563.95 120.88 L564.70 121.12 L565.44 121.36 L566.18 121.60 L566.93 121.83 L567.67 122.07 L568.41 122.30 L569.16 122.53 L569.90 122.76 L570.64 122.99 L571.39 123.22 L572.13 123.45 L572.88 123.67 L573.62 123.89 L574.36 124.11 L575.11 124.33 L575.85 124.55 L576.59 124.77 L577.34 124.98 L578.08 125.20 L578.82 125.41 L579.57 125.62 L580.31 125.83 L581.05 126.04 L581.80 126.24 L582.54 126.45 L583.28 126.65 L584.03 126.86 L584.77 127.06 L585.51 127.26 L586.26 127.46 L587.00 127.66 L587.75 127.85 L588.49 128.05 L589.23 128.24 L589.98 128.43 L590.72 128.63 L591.46 128.82 L592.21 129.00 L592.95 129.19 L593.69 129.38 L594.44 129.56 L595.18 129.75 L595.92 129.93 L596.67 130.11 L597.41 130.29 L598.15 130.47 L598.90 130.65 L599.64 130.83 L600.38 131.01 L601.13 131.18 L601.87 131.36 L602.62 131.53 L603.36 131.70 L604.10 131.87 L604.85 132.04 L605.59 132.21 L606.33 132.38 L607.08 132.55 L607.82 132.71 L608.56 132.88 L609.31 133.04 L610.05 133.21 L610.79 133.37 L611.54 133.53 L612.28 133.69 L613.02 133.85 L613.77 134.01 L614.51 134.17 L615.25 134.32 L616.00 134.48 L616.74 134.63 L617.49 134.79 L618.23 134.94 L618.97 135.09 L619.72 135.24 L620.46 135.39 L621.20 135.54 L621.95 135.69 L622.69 135.84 L623.43 135.99 L624.18 136.13 L624.92 136.28 L625.66 136.42 L626.41 136.56 L627.15 136.71 L627.89 136.85 L628.64 136.99 L629.38 137.13 L630.12 137.27 L630.87 137.41 L631.61 137.55 L632.36 137.69 L633.10 137.82 L633.84 137.96 L634.59 138.09 L635.33 138.23 L636.07 138.36 L636.82 138.49 L637.56 138.63 L638.30 138.76 L639.05 138.89 L639.79 139.02 L640.53 139.15 L641.28 139.28 L642.02 139.40 L642.76 139.53 L643.51 139.66 L644.25 139.78 L644.99 139.91 L645.74 140.03 L646.48 140.16 L647.22 140.28 L647.97 140.40 L648.71 140.53 L649.46 140.65 L650.20 140.77 L650.94 140.89 L651.69 141.01 L652.43 141.13 L653.17 141.25 L653.92 141.36 L654.66 141.48 L655.40 141.60 L656.15 141.71 L656.89 141.83 L657.63 141.94 L658.38 142.06 L659.12 142.17 L659.86 142.28 L660.61 142.40 L661.35 142.51 L662.10 142.62 L662.84 142.73 L663.58 142.84 L664.33 142.95 L665.07 143.06 L665.81 143.17 L666.56 143.28 L667.30 143.38 L668.04 143.49 L668.79 143.60 L669.53 143.70 L670.27 143.81 L671.02 143.91 L671.76 144.02 L672.50 144.12 L673.25 144.23 L673.99 144.33 L674.73 144.43 L675.48 144.53 L676.22 144.63 L676.97 144.73 L677.71 144.83 L678.45 144.93 L679.20 145.03 L679.94 145.13 L680.68 145.23 L681.43 145.33 L682.17 145.43 L682.91 145.52 L683.66 145.62 L684.40 145.72" fill="none" stroke="#f00" stroke-width="1.10"/>
<path d="M89.60 190.19 L90.34 190.20 L91.09 190.22 L91.83 190.23 L92.57 190.24 L93.32 190.25 L94.06 190.26 L94.80 190.28 L95.55 190.29 L96.29 190.30 L97.04 190.31 L97.78 190.33 L98.52 190.34 L99.27 190.35 L100.01 190.36 L100.75 190.38 L101.50 190.39 L102.24 190.40 L102.98 190.42 L103.73 190.43 L104.47 190.44 L105.21 190.46 L105.96 190.47 L106.70 190.48 L107.44 190.50 L108.19 190.51 L108.93 190.52 L109.67 190.54 L110.42 190.55 L111.16 190.57 L111.91 190.58 L112.65 190.59 L113.39 190.61 L114.14 190.62 L114.88 190.64 L115.62 190.65 L116.37 190.67 L117.11 190.68 L117.85 190.70 L118.60 190.71 L119.34 190.73 L120.08 190.74 L120.83 190.76 L121.57 190.77 L122.31 190.79 L123.06 190.80 L123.80 190.82 L124.54 190.83 L125.29 190.85 L126.03 190.86 L126.78 190.88 L127.52 190.90 L128.26 190.91 L129.01 190.93 L129.75 190.94 L130.49 190.96 L131.24 190.98 L131.98 190.99 L132.72 191.01 L133.47 191.03 L134.21 191.04 L134.95 191.06 L135.70 191.08 L136.44 191.10 L137.18 191.11 L137.93 191.13 L138.67 191.15 L139.41 191.17 L140.16 191.18 L140.90 191.20 L141.65 191.22 L142.39 191.24 L143.13 191.26 L143.88 191.27 L144.62 191.29 L145.36 191.31 L146.11 191.33 L146.85 191.35 L147.59 191.37 L148.34 191.39 L149.08 191.41 L149.82 191.43 L150.57 191.44 L151.31 191.46 L152.05 191.48 L152.80 191.50 L153.54 191.52 L154.28 191.54 L155.03 191.56 L155.77 191.58 L156.52 191.61 L157.26 191.63 L158.00 191.65 L158.75 191.67 L159.49 191.69 L160.23 191.71 L160.98 191.73 L161.72 191.75 L162.46 191.78 L163.21 191.80 L163.95 191.82 L164.69 191.84 L165.44 191.86 L166.18 191.89 L166.92 191.91 L167.67 191.93 L168.41 191.96 L169.15 191.98 L169.90 192.00 L170.64 192.03 L171.39 192.05 L172.13 192.07 L172.87 192.10 L173.62 192.12 L174.36 192.15 L175.10 192.17 L175.85 192.20 L176.59 192.22 L177.33 192.25 L178.08 192.27 L178.82 192.30 L179.56 192.32 L180.31 192.35 L181.05 192.38 L181.79 192.40 L182.54 192.43 L183.28 192.46 L184.02 192.48 L184.77 192.51 L185.51 192.54 L186.25 192.56 L187.00 192.59 L187.74 192.62 L188.49 192.65 L189.23 192.68 L189.97 192.71 L190.72 192.74 L191.46 192.76 L192.20 192.79 L192.95 192.82 L193.69 192.85 L194.43 192.88 L195.18 192.92 L195.92 192.95 L196.66 192.98 L197.41 193.01 L198.15 193.04 L198.89 193.07 L199.64 193.10 L200.38 193.14 L201.12 193.17 L201.87 193.20 L202.61 193.23 L203.36 193.27 L204.10 193.30 L204.84 193.34 L205.59 193.37 L206.33 193.41 L207.07 193.44 L207.82 193.48 L208.56 193.51 L209.30 193.55 L210.05 193.58 L210.79 193.62 L211.53 193.66 L212.28 193.69 L213.02 193.73 L213.76 193.77 L214.51 193.81 L215.25 193.85 L216.00 193.88 L216.74 193.92 L217.48 193.96 L218.23 194.00 L218.97 194.04 L219.71 194.08 L220.46 194.13 L221.20 194.17 L221.94 194.21 L222.69 194.25 L223.43 194.29 L224.17 194.34 L224.92 194.38 L225.66 194.43 L226.40 194.47 L227.15 194.51 L227.89 194.56 L228.63 194.61 L229.38 194.65 L230.12 194.70 L230.87 194.75 L231.61 194.79 L232.35 194.84 L233.10 194.89 L233.84 194.94 L234.58 194.99 L235.33 195.04 L236.07 195.09 L236.81 195.14 L237.56 195.19 L238.30 195.24 L239.04 195.30 L239.79 195.35 L240.53 195.40 L241.27 195.46 L242.02 195.51 L242.76 195.57 L243.50 195.62 L244.25 195.68 L244.99 195.74 L245.74 195.80 L246.48 195.85 L247.22 195.91 L247.97 195.97 L248.71 196.03 L249.45 196.09 L250.20 196.16 L250.94 196.22 L251.68 196.28 L252.43 196.35 L253.17 196.41 L253.91 196.48 L254.66 196.54 L255.40 196.61 L256.14 196.68 L256.89 196.75 L257.63 196.81 L258.37 196.88 L259.12 196.96 L259.86 197.03 L260.61 197.10 L261.35 197.17 L262.09 197.25 L262.84 197.32 L263.58 197.40 L264.32 197.47 L265.07 197.55 L265.81 197.63 L266.55 197.71 L267.30 197.79 L268.04 197.87 L268.78 197.96 L269.53 198.04 L270.27 198.12 L271.01 198.21 L271.76 198.30 L272.50 198.38 L273.24 198.47 L273.99 198.56 L274.73 198.66 L275.48 198.75 L276.22 198.84 L276.96 198.94 L277.71 199.03 L278.45 199.13 L279.19 199.23 L279.94 199.33 L280.68 199.43 L281.42 199.53 L282.17 199.64 L282.91 199.74 L283.65 199.85 L284.40 199.96 L285.14 200.07 L285.88 200.18 L286.63 200.29 L287.37 200.40 L288.11 200.52 L288.86 200.64 L289.60 200.76 L290.35 200.88 L291.09 201.00 L291.83 201.12 L292.58 201.25 L293.32 201.37 L294.06 201.50 L294.81 201.64 L295.55 201.77 L296.29 201.90 L297.04 202.04 L297.78 202.18 L298.52 202.32 L299.27 202.46 L300.01 202.61 L300.75 202.75 L301.50 202.90 L302.24 203.05 L302.98 203.21 L303.73 203.36 L304.47 203.52 L305.22 203.68 L305.96 203.84 L306.70 204.00 L307.45 204.17 L308.19 204.34 L308.93 204.51 L309.68 204.69 L310.42 204.87 L311.16 205.04 L311.91 205.23 L312.65 205.41 L313.39 205.60 L314.14 205.79 L314.88 205.98 L315.62 206.18 L316.37 206.38 L317.11 206.58 L317.85 206.79 L318.60 206.99 L319.34 207.21 L320.09 207.42 L320.83 207.64 L321.57 207.86 L322.32 208.08 L323.06 208.31 L323.80 208.54 L324.55 208.77 L325.29 209.01 L326.03 209.24 L326.78 209.49 L327.52 209.73 L328.26 209.98 L329.01 210.24 L329.75 210.49 L330.49 210.75 L331.24 211.01 L331.98 211.28 L332.72 211.55 L333.47 211.82 L334.21 212.10 L334.96 212.37 L335.70 212.66 L336.44 212.94 L337.19 213.23 L337.93 213.52 L338.67 213.81 L339.42 214.11 L340.16 214.41 L340.90 214.71 L341.65 215.01 L342.39 215.32 L343.13 215.62 L343.88 215.93 L344.62 216.24 L345.36 216.56 L346.11 216.87 L346.85 217.18 L347.59 217.50 L348.34 217.81 L349.08 218.13 L349.82 218.44 L350.57 218.76 L351.31 219.07 L352.06 219.38 L352.80 219.69 L353.54 219.99 L354.29 220.29 L355.03 220.59 L355.77 220.88 L356.52 221.17 L357.26 221.45 L358.00 221.73 L358.75 222.00 L359.49 222.26 L360.23 222.51 L360.98 222.75 L361.72 222.98 L362.46 223.20 L363.21 223.40 L363.95 223.60 L364.69 223.78 L365.44 223.94 L366.18 224.09 L366.93 224.22 L367.67 224.33 L368.41 224.42 L369.16 224.49 L369.90 224.54 L370.64 224.57 L371.39 224.58 L372.13 224.56 L372.87 224.51 L373.62 224.45 L374.36 224.35 L375.10 224.23 L375.85 224.08 L376.59 223.91 L377.33 223.71 L378.08 223.47 L378.82 223.21 L379.56 222.93 L380.31 222.61 L381.05 222.27 L381.80 221.90 L382.54 221.50 L383.28 221.07 L384.03 220.62 L384.77 220.15 L385.51 219.65 L386.26 219.12 L387.00 218.58 L387.74 218.01 L388.49 217.43 L389.23 216.83 L389.97 216.21 L390.72 215.57 L391.46 214.92 L392.20 214.26 L392.95 213.59 L393.69 212.91 L394.43 212.22 L395.18 211.53 L395.92 210.83 L396.67 210.13 L397.41 209.43 L398.15 208.72 L398.90 208.02 L399.64 207.32 L400.38 206.63 L401.13 205.93 L401.87 205.25 L402.61 204.57 L403.36 203.90 L404.10 203.23 L404.84 202.58 L405.59 201.94 L406.33 201.30 L407.07 200.68 L407.82 200.07 L408.56 199.47 L409.31 198.88 L410.05 198.31 L410.79 197.74 L411.54 197.20 L412.28 196.66 L413.02 196.14 L413.77 195.63 L414.51 195.13 L415.25 194.64 L416.00 194.17 L416.74 193.71 L417.48 193.27 L418.23 192.84 L418.97 192.42 L419.71 192.01 L420.46 191.61 L421.20 191.23 L421.94 190.85 L422.69 190.49 L423.43 190.14 L424.18 189.80 L424.92 189.47 L425.66 189.15 L426.41 188.84 L427.15 188.54 L427.89 188.25 L428.64 187.97 L429.38 187.70 L430.12 187.44 L430.87 187.19 L431.61 186.94 L432.35 186.70 L433.10 186.47 L433.84 186.25 L434.58 186.04 L435.33 185.83 L436.07 185.63 L436.81 185.43 L437.56 185.25 L438.30 185.07 L439.05 184.89 L439.79 184.72 L440.53 184.56 L441.28 184.40 L442.02 184.25 L442.76 184.11 L443.51 183.96 L444.25 183.83 L444.99 183.70 L445.74 183.57 L446.48 183.45 L447.22 183.33 L447.97 183.22 L448.71 183.11 L449.45 183.01 L450.20 182.91 L450.94 182.81 L451.68 182.72 L452.43 182.63 L453.17 182.54 L453.92 182.46 L454.66 182.38 L455.40 182.30 L456.15 182.23 L456.89 182.16 L457.63 182.09 L458.38 182.03 L459.12 181.96 L459.86 181.90 L460.61 181.85 L461.35 181.79 L462.09 181.74 L462.84 181.69 L463.58 181.64 L464.32 181.60 L465.07 181.55 L465.81 181.51 L466.55 181.47 L467.30 181.44 L468.04 181.40 L468.79 181.37 L469.53 181.33 L470.27 181.30 L471.02 181.27 L471.76 181.25 L472.50 181.22 L473.25 181.19 L473.99 181.17 L474.73 181.15 L475.48 181.13 L476.22 181.11 L476.96 181.09 L477.71 181.07 L478.45 181.05 L479.19 181.04 L479.94 181.02 L480.68 181.01 L481.42 181.00 L482.17 180.98 L482.91 180.97 L483.65 180.96 L484.40 180.95 L485.14 180.94 L485.89 180.94 L486.63 180.93 L487.37 180.92 L488.12 180.92 L488.86 180.91 L489.60 180.91 L490.35 180.90 L491.09 180.90 L491.83 180.89 L492.58 180.89 L493.32 180.89 L494.06 180.89 L494.81 180.89 L495.55 180.89 L496.29 180.88 L497.04 180.88 L497.78 180.89 L498.52 180.89 L499.27 180.89 L500.01 180.89 L500.76 180.89 L501.50 180.89 L502.24 180.90 L502.99 180.90 L503.73 180.90 L504.47 180.90 L505.22 180.91 L505.96 180.91 L506.70 180.92 L507.45 180.92 L508.19 180.93 L508.93 180.93 L509.68 180.94 L510.42 180.94 L511.16 180.95 L511.91 180.95 L512.65 180.96 L513.39 180.96 L514.14 180.97 L514.88 180.98 L515.63 180.98 L516.37 180.99 L517.11 181.00 L517.86 181.00 L518.60 181.01 L519.34 181.02 L520.09 181.03 L520.83 181.03 L521.57 181.04 L522.32 181.05 L523.06 181.06 L523.80 181.07 L524.55 181.07 L525.29 181.08 L526.03 181.09 L526.78 181.10 L527.52 181.11 L528.26 181.11 L529.01 181.12 L529.75 181.13 L530.50 181.14 L531.24 181.15 L531.98 181.16 L532.73 181.17 L533.47 181.18 L534.21 181.19 L534.96 181.19 L535.70 181.20 L536.44 181.21 L537.19 181.22 L537.93 181.23 L538.67 181.24 L539.42 181.25 L540.16 181.26 L540.90 181.27 L541.65 181.28 L542.39 181.29 L543.13 181.30 L543.88 181.31 L544.62 181.32 L545.37 181.33 L546.11 181.34 L546.85 181.34 L547.60 181.35 L548.34 181.36 L549.08 181.37 L549.83 181.38 L550.57 181.39 L551.31 181.40 L552.06 181.41 L552.80 181.42 L553.54 181.43 L554.29 181.44 L555.03 181.45 L555.77 181.46 L556.52 181.47 L557.26 181.48 L558.00 181.49 L558.75 181.50 L559.49 181.51 L560.24 181.52 L560.98 181.53 L561.72 181.54 L562.47 181.55 L563.21 181.56 L563.95 181.57 L564.70 181.58 L565.44 181.59 L566.18 181.60 L566.93 181.61 L567.67 181.62 L568.41 181.62 L569.16 181.63 L569.90 181.64 L570.64 181.65 L571.39 181.66 L572.13 181.67 L572.88 181.68 L573.62 181.69 L574.36 181.70 L575.11 181.71 L575.85 181.72 L576.59 181.73 L577.34 181.74 L578.08 181.75 L578.82 181.76 L579.57 181.77 L580.31 181.78 L581.05 181.78 L581.80 181.79 L582.54 181.80 L583.28 181.81 L584.03 181.82 L584.77 181.83 L585.51 181.84 L586.26 181.85 L587.00 181.86 L587.75 181.87 L588.49 181.88 L589.23 181.89 L589.98 181.89 L590.72 181.90 L591.46 181.91 L592.21 181.92 L592.95 181.93 L593.69 181.94 L594.44 181.95 L595.18 181.96 L595.92 181.97 L596.67 181.97 L597.41 181.98 L598.15 181.99 L598.90 182.00 L599.64 182.01 L600.38 182.02 L601.13 182.03 L601.87 182.03 L602.62 182.04 L603.36 182.05 L604.10 182.06 L604.85 182.07 L605.59 182.08 L606.33 182.09 L607.08 182.09 L607.82 182.10 L608.56 182.11 L609.31 182.12 L610.05 182.13 L610.79 182.14 L611.54 182.14 L612.28 182.15 L613.02 182.16 L613.77 182.17 L614.51 182.18 L615.25 182.19 L616.00 182.19 L616.74 182.20 L617.49 182.21 L618.23 182.22 L618.97 182.23 L619.72 182.23 L620.46 182.24 L621.20 182.25 L621.95 182.26 L622.69 182.26 L623.43 182.27 L624.18 182.28 L624.92 182.29 L625.66 182.30 L626.41 182.30 L627.15 182.31 L627.89 182.32 L628.64 182.33 L629.38 182.33 L630.12 182.34 L630.87 182.35 L631.61 182.36 L632.36 182.36 L633.10 182.37 L633.84 182.38 L634.59 182.39 L635.33 182.39 L636.07 182.40 L636.82 182.41 L637.56 182.42 L638.30 182.42 L639.05 182.43 L639.79 182.44 L640.53 182.45 L641.28 182.45 L642.02 182.46 L642.76 182.47 L643.51 182.47 L644.25 182.48 L644.99 182.49 L645.74 182.50 L646.48 182.50 L647.22 182.51 L647.97 182.52 L648.71 182.52 L649.46 182.53 L650.20 182.54 L650.94 182.54 L651.69 182.55 L652.43 182.56 L653.17 182.57 L653.92 182.57 L654.66 182.58 L655.40 182.59 L656.15 182.59 L656.89 182.60 L657.63 182.61 L658.38 182.61 L659.12 182.62 L659.86 182.63 L660.61 182.63 L661.35 182.64 L662.10 182.65 L662.84 182.65 L663.58 182.66 L664.33 182.66 L665.07 182.67 L665.81 182.68 L666.56 182.68 L667.30 182.69 L668.04 182.70 L668.79 182.70 L669.53 182.71 L670.27 182.72 L671.02 182.72 L671.76 182.73 L672.50 182.73 L673.25 182.74 L673.99 182.75 L674.73 182.75 L675.48 182.76 L676.22 182.77 L676.97 182.77 L677.71 182.78 L678.45 182.78 L679.20 182.79 L679.94 182.80 L680.68 182.80 L681.43 182.81 L682.17 182.81 L682.91 182.82 L683.66 182.83 L684.40 182.83" fill="none" stroke="#0f0" stroke-width="1.10" stroke-dasharray="8.3 3.7" stroke-dashoffset="2.2"/>
<path d="M245.8 63.6H331.5" stroke="#000" stroke-width="1.10" stroke-dasharray="4.2 3.7 4.2 7.8"/>
<circle cx="288.4" cy="63.6" r="3.20" fill="#000"/>
<path d="M245.8 79.5H331.5" stroke="#0f0" stroke-width="1.10" stroke-dasharray="8.3 3.7"/>
<path d="M285.10 76.22l6.60 6.60M285.10 82.82l6.60 -6.60" stroke="#0f0" stroke-width="1.10"/>
<path d="M245.8 95.4H331.5" stroke="#000" stroke-width="1.10" stroke-dasharray="4.2 3.7 4.2 7.8"/>
<path d="M245.8 111.3H331.5" stroke="#00f" stroke-width="1.10" stroke-dasharray="4.2 5.8"/>
<path d="M285.00 107.86l6.80 6.80M285.00 114.66l6.80 -6.80M285.00 111.26h6.80M288.40 107.86v6.80" stroke="#00f" stroke-width="1.10"/>
<path d="M245.8 127.1H331.5" stroke="#f00" stroke-width="1.10"/>
<path d="M245.8 143.0H331.5" stroke="#0f0" stroke-width="1.10" stroke-dasharray="8.3 3.7"/>
<g stroke="#000" stroke-width="2.30" fill="none">
<rect x="89.60" y="11.25" width="594.80" height="348.85"/>
<path d="M163.95 360.10v-12.40M163.95 11.25v12.40M238.30 360.10v-12.40M238.30 11.25v12.40M312.65 360.10v-12.40M312.65 11.25v12.40M387.00 360.10v-12.40M387.00 11.25v12.40M461.35 360.10v-12.40M461.35 11.25v12.40M535.70 360.10v-12.40M535.70 11.25v12.40M610.05 360.10v-12.40M610.05 11.25v12.40M89.60 185.85h12.40M684.40 185.85h-12.40"/>
</g>
<g class="t" fill="#000" opacity="0.999" stroke="#fff" stroke-width="0.30">
<g font-size="24.10" text-anchor="end">
<text x="80.0" y="19.35">0.5</text>
<text x="80.0" y="193.80">0</text>
<text x="80.0" y="368.25">-0.5</text>
</g>
<g font-size="24.10" text-anchor="middle">
<text x="89.60" y="387.6">-4</text>
<text x="163.95" y="387.6">-3</text>
<text x="238.30" y="387.6">-2</text>
<text x="312.65" y="387.6">-1</text>
<text x="387.00" y="387.6">0</text>
<text x="461.35" y="387.6">1</text>
<text x="535.70" y="387.6">2</text>
<text x="610.05" y="387.6">3</text>
<text x="684.40" y="387.6">4</text>
</g>
<text transform="matrix(0.26935 0 0 0.27090 369.919 416.629)" font-size="100" stroke-width="1.000" font-style="italic">C</text>
<text transform="matrix(0.18824 0 0 0.16794 388.759 419.900)" font-size="100" stroke-width="1.000" font-style="italic">X</text>
<text transform="matrix(0.18871 0 0 0.17761 206.262 67.822)" font-size="100" stroke-width="1.000" font-style="italic">C</text>
<text transform="matrix(0.16545 0 0 0.13893 218.325 70.900)" font-size="100" stroke-width="1.000" font-style="italic">T</text>
<text transform="matrix(0.17903 0 0 0.17761 195.215 83.702)" font-size="100" stroke-width="1.000" font-style="italic">C</text>
<text transform="matrix(0.18364 0 0 0.13893 206.506 86.780)" font-size="100" stroke-width="1.000" font-style="italic">T</text>
<text transform="matrix(0.14380 0 0 0.13893 219.944 86.780)" font-size="100" stroke-width="1.000" font-style="italic">E</text>
<text transform="matrix(0.18710 0 0 0.17761 139.071 99.582)" font-size="100" stroke-width="1.000" font-style="italic">C</text>
<text transform="matrix(0.15167 0 0 0.13893 152.776 102.660)" font-size="100" stroke-width="1.000" font-style="italic">R</text>
<text transform="matrix(0.13500 0 0 0.13893 163.868 102.660)" font-size="100" stroke-width="1.000" font-style="italic">R</text>
<text transform="matrix(0.18387 0 0 0.17761 196.189 99.582)" font-size="100" stroke-width="1.000" font-style="italic">C</text>
<text transform="matrix(0.15192 0 0 0.13893 209.852 102.660)" font-size="100" stroke-width="1.000" font-style="italic">L</text>
<text transform="matrix(0.13500 0 0 0.13893 220.468 102.660)" font-size="100" stroke-width="1.000" font-style="italic">R</text>
<text transform="matrix(0.17742 0 0 0.17761 141.124 115.462)" font-size="100" stroke-width="1.000" font-style="italic">C</text>
<text transform="matrix(0.14833 0 0 0.13893 154.374 118.540)" font-size="100" stroke-width="1.000" font-style="italic">R</text>
<text transform="matrix(0.13654 0 0 0.13893 164.937 118.540)" font-size="100" stroke-width="1.000" font-style="italic">L</text>
<text transform="matrix(0.17903 0 0 0.17761 197.215 115.462)" font-size="100" stroke-width="1.000" font-style="italic">C</text>
<text transform="matrix(0.14808 0 0 0.13893 210.848 118.540)" font-size="100" stroke-width="1.000" font-style="italic">L</text>
<text transform="matrix(0.14423 0 0 0.13893 220.544 118.540)" font-size="100" stroke-width="1.000" font-style="italic">L</text>
<text transform="matrix(0.18226 0 0 0.17761 97.498 131.342)" font-size="100" stroke-width="1.000" font-style="italic">C</text>
<text transform="matrix(0.15577 0 0 0.13893 111.356 134.420)" font-size="100" stroke-width="1.000" font-style="italic">L</text>
<text transform="matrix(0.15167 0 0 0.13893 121.376 134.420)" font-size="100" stroke-width="1.000" font-style="italic">R</text>
<text transform="matrix(0.14167 0 0 0.13893 132.471 134.420)" font-size="100" stroke-width="1.000" font-style="italic">R</text>
<text transform="matrix(0.14615 0 0 0.13893 143.146 134.420)" font-size="100" stroke-width="1.000" font-style="italic">L</text>
<text transform="matrix(0.17742 0 0 0.17761 175.524 131.342)" font-size="100" stroke-width="1.000" font-style="italic">C</text>
<text transform="matrix(0.15167 0 0 0.13893 189.176 134.420)" font-size="100" stroke-width="1.000" font-style="italic">R</text>
<text transform="matrix(0.14423 0 0 0.13893 200.344 134.420)" font-size="100" stroke-width="1.000" font-style="italic">L</text>
<text transform="matrix(0.15167 0 0 0.13893 209.776 134.420)" font-size="100" stroke-width="1.000" font-style="italic">R</text>
<text transform="matrix(0.14038 0 0 0.13893 220.940 134.420)" font-size="100" stroke-width="1.000" font-style="italic">L</text>
<text transform="matrix(0.18226 0 0 0.17761 97.498 147.222)" font-size="100" stroke-width="1.000" font-style="italic">C</text>
<text transform="matrix(0.15577 0 0 0.13893 111.356 150.300)" font-size="100" stroke-width="1.000" font-style="italic">L</text>
<text transform="matrix(0.15167 0 0 0.13893 121.376 150.300)" font-size="100" stroke-width="1.000" font-style="italic">R</text>
<text transform="matrix(0.14808 0 0 0.13893 132.548 150.300)" font-size="100" stroke-width="1.000" font-style="italic">L</text>
<text transform="matrix(0.14833 0 0 0.13893 142.174 150.300)" font-size="100" stroke-width="1.000" font-style="italic">R</text>
<text transform="matrix(0.17742 0 0 0.17761 175.524 147.222)" font-size="100" stroke-width="1.000" font-style="italic">C</text>
<text transform="matrix(0.15167 0 0 0.13893 189.176 150.300)" font-size="100" stroke-width="1.000" font-style="italic">R</text>
<text transform="matrix(0.14423 0 0 0.13893 200.344 150.300)" font-size="100" stroke-width="1.000" font-style="italic">L</text>
<text transform="matrix(0.14808 0 0 0.13893 209.848 150.300)" font-size="100" stroke-width="1.000" font-style="italic">L</text>
<text transform="matrix(0.15167 0 0 0.13893 219.476 150.300)" font-size="100" stroke-width="1.000" font-style="italic">R</text>
<path d="M179.00 93.46H190.70M179.00 97.56H190.70M179.00 109.34H190.70M179.00 113.44H190.70M158.70 125.22H170.90M158.70 129.32H170.90M158.70 141.10H170.90M158.70 145.20H170.90" stroke="#000" stroke-width="0.9" fill="none"/>
<g id="ylab" transform="translate(0,318.2) rotate(-90)">
<path d="M14.0 8.2L1.0 14.4L14.0 20.6M64.0 8.2L77.0 14.4L64.0 20.6" fill="none" stroke="#000" stroke-width="1.05"/>
<path d="M94.3 2.2Q82.9 14.25 94.3 26.3Q85.3 14.25 94.3 2.2ZM258.9 2.2Q269.3 14.25 258.9 26.3Q266.9 14.25 258.9 2.2Z" fill="#000" stroke="#000" stroke-width="0.4" stroke-linejoin="round"/>
<text transform="matrix(0.28983 0 0 0.25191 24.045 20.600)" font-size="100" stroke-width="1.000" font-style="italic">P</text>
<text transform="matrix(0.20727 0 0 0.16794 36.553 26.000)" font-size="100" stroke-width="1.000" font-style="italic">T</text>
<text transform="matrix(0.27759 0 0 0.25191 96.322 20.600)" font-size="100" stroke-width="1.000" font-style="italic">B</text>
<text transform="matrix(0.17000 0 0 0.16458 112.790 24.035)" font-size="100" stroke-width="0.000" font-style="italic">c</text>
<text transform="matrix(0.25455 0 0 0.25191 167.055 20.700)" font-size="100" stroke-width="1.000" font-style="italic">D</text>
<text transform="matrix(0.17971 0 0 0.16458 185.230 24.035)" font-size="100" stroke-width="0.000" font-style="italic">s</text>
<text transform="matrix(0.26596 0 0 0.23111 198.500 20.231)" font-size="100" stroke-width="1.000" font-style="italic">μ</text>
<text transform="matrix(0.27447 0 0 0.23111 230.400 20.231)" font-size="100" stroke-width="1.000" font-style="italic">μ</text>
<path d="M41.7 6.6H52.1M245.8 7.5H255.3M213.5 7.6H223.8M218.65 2.4V12.8M129.2 14.4H149.4" fill="none" stroke="#000" stroke-width="1.05"/>
<path d="M144.7 8.2Q146.0 12.7 149.7 14.4Q146.0 16.1 144.7 20.6" fill="none" stroke="#000" stroke-width="1.05" stroke-linejoin="miter"/>
</g>
</g>
</svg>
</body></html>
